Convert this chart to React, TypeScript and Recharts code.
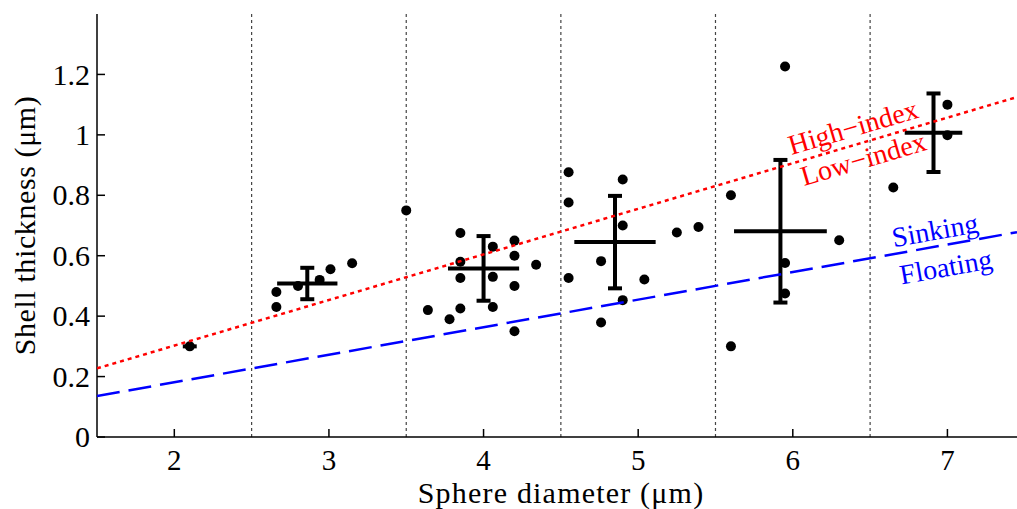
import {
  ComposedChart,
  Scatter,
  XAxis,
  YAxis,
  ErrorBar,
  ReferenceLine,
  ReferenceDot,
  Label,
} from "recharts";

const FONT = "'Liberation Serif', 'Times New Roman', serif";

// Achsen
const X_TICKS = [2, 3, 4, 5, 6, 7];
const Y_TICKS = [0, 0.2, 0.4, 0.6, 0.8, 1, 1.2];
const GRUPPEN_GRENZEN = [2.5, 3.5, 4.5, 5.5, 6.5];

// Einzelmessungen: Durchmesser (µm) / Schalendicke (µm)
const PUNKTE = [
  { d: 2.1, t: 0.3 },
  { d: 2.66, t: 0.48 },
  { d: 2.66, t: 0.43 },
  { d: 2.8, t: 0.5 },
  { d: 2.94, t: 0.52 },
  { d: 3.01, t: 0.555 },
  { d: 3.15, t: 0.575 },
  { d: 3.5, t: 0.75 },
  { d: 3.64, t: 0.42 },
  { d: 3.78, t: 0.39 },
  { d: 3.85, t: 0.675 },
  { d: 3.85, t: 0.58 },
  { d: 3.85, t: 0.526 },
  { d: 3.85, t: 0.425 },
  { d: 4.06, t: 0.63 },
  { d: 4.06, t: 0.53 },
  { d: 4.06, t: 0.43 },
  { d: 4.2, t: 0.65 },
  { d: 4.2, t: 0.6 },
  { d: 4.2, t: 0.5 },
  { d: 4.2, t: 0.35 },
  { d: 4.34, t: 0.57 },
  { d: 4.55, t: 0.876 },
  { d: 4.55, t: 0.776 },
  { d: 4.55, t: 0.526 },
  { d: 4.76, t: 0.582 },
  { d: 4.76, t: 0.379 },
  { d: 4.9, t: 0.852 },
  { d: 4.9, t: 0.7 },
  { d: 4.9, t: 0.453 },
  { d: 5.04, t: 0.521 },
  { d: 5.25, t: 0.677 },
  { d: 5.39, t: 0.695 },
  { d: 5.6, t: 0.8 },
  { d: 5.6, t: 0.3 },
  { d: 5.95, t: 1.226 },
  { d: 5.95, t: 0.576 },
  { d: 5.95, t: 0.475 },
  { d: 6.3, t: 0.651 },
  { d: 6.65, t: 0.826 },
  { d: 7.0, t: 1.1 },
  { d: 7.0, t: 0.999 },
];

// Gruppenmittel mit Streuung (x: Durchmesser, y: Dicke)
const MITTELWERTE = [
  { d: 2.1, t: 0.3, ed: 0.045, et: 0 },
  { d: 2.86, t: 0.508, ed: 0.195, et: 0.052 },
  { d: 4.0, t: 0.558, ed: 0.23, et: 0.107 },
  { d: 4.85, t: 0.645, ed: 0.263, et: 0.153 },
  { d: 5.92, t: 0.681, ed: 0.3, et: 0.236 },
  { d: 6.91, t: 1.007, ed: 0.186, et: 0.13 },
];

// Grenzlinien
const HIGH_LOW_INDEX = [
  { d: 1.5, t: 0.227 },
  { d: 7.45, t: 1.125 },
];
const SINKING_FLOATING = [
  { d: 1.5, t: 0.1355 },
  { d: 7.45, t: 0.678 },
];

function XTick({ x, y, payload }: any) {
  return (
    <g>
      <line x1={x} y1={y} x2={x} y2={y - 8} stroke="#000" strokeWidth={1.5} />
      <text
        x={x}
        y={y + 33}
        textAnchor="middle"
        fontSize={29}
        fontFamily={FONT}
        fill="#000"
      >
        {payload.value}
      </text>
    </g>
  );
}

function TopTick({ x, y }: any) {
  return <line x1={x} y1={y} x2={x} y2={y + 8} stroke="#000" strokeWidth={1.5} />;
}

function YTick({ x, y, payload }: any) {
  return (
    <g>
      <line x1={x} y1={y} x2={x + 8} y2={y} stroke="#000" strokeWidth={1.5} />
      <text
        x={x - 7}
        y={y}
        dy="0.34em"
        textAnchor="end"
        fontSize={30}
        fontFamily={FONT}
        fill="#000"
      >
        {payload.value}
      </text>
    </g>
  );
}

function Beschriftung(text: string, color: string, angle: number) {
  return (p: any) => (
    <text
      x={p.cx}
      y={p.cy}
      dy="0.34em"
      textAnchor="middle"
      transform={`rotate(${angle} ${p.cx} ${p.cy})`}
      fontSize={28}
      fontFamily={FONT}
      fill={color}
    >
      {text}
    </text>
  );
}

const keinSymbol = () => <g />;

export default function App() {
  return (
    <div style={{ position: "absolute", left: 0, top: 0, background: "#fff" }}>
      <ComposedChart
        width={1017}
        height={509}
        margin={{ top: 14, right: 0, bottom: 0, left: 0 }}
      >
        <XAxis
          type="number"
          dataKey="d"
          domain={[1.5, 7.45]}
          ticks={X_TICKS}
          allowDataOverflow
          height={72}
          tickSize={0}
          tickMargin={0}
          tickLine={false}
          tick={<XTick />}
          axisLine={{ stroke: "#000", strokeWidth: 1.5 }}
        >
          <Label
            content={({ viewBox }: any) => (
              <text
                x={viewBox.x + viewBox.width / 2 + 4}
                y={503}
                textAnchor="middle"
                fontSize={30}
                letterSpacing={1.2}
                fontFamily={FONT}
                fill="#000"
              >
                Sphere diameter (μm)
              </text>
            )}
          />
        </XAxis>
        <XAxis
          xAxisId="top"
          orientation="top"
          type="number"
          dataKey="d"
          domain={[1.5, 7.45]}
          ticks={X_TICKS}
          allowDataOverflow
          height={0}
          tickSize={0}
          tickMargin={0}
          tickLine={false}
          tick={<TopTick />}
          axisLine={{ stroke: "#000", strokeWidth: 1.5 }}
        />
        <YAxis
          type="number"
          dataKey="t"
          domain={[0, 1.4]}
          ticks={Y_TICKS}
          allowDataOverflow
          width={97}
          tickSize={0}
          tickMargin={0}
          tickLine={false}
          tick={<YTick />}
          axisLine={{ stroke: "#000", strokeWidth: 1.5 }}
        >
          <Label
            content={({ viewBox }: any) => {
              const cy = viewBox.y + viewBox.height / 2;
              return (
                <text
                  x={35}
                  y={cy}
                  textAnchor="middle"
                  transform={`rotate(-90 35 ${cy})`}
                  fontSize={30}
                  letterSpacing={0.6}
                  fontFamily={FONT}
                  fill="#000"
                >
                  Shell thickness (μm)
                </text>
              );
            }}
          />
        </YAxis>

        {GRUPPEN_GRENZEN.map((g) => (
          <ReferenceLine
            key={g}
            x={g}
            stroke="#444"
            strokeWidth={1.2}
            strokeDasharray="3 3"
          />
        ))}

        <Scatter
          data={PUNKTE}
          isAnimationActive={false}
          shape={(p: any) => <circle cx={p.cx} cy={p.cy} r={5} fill="#000" />}
        />

        <Scatter data={MITTELWERTE} isAnimationActive={false} shape={keinSymbol}>
          <ErrorBar
            dataKey="et"
            direction="y"
            width={7}
            stroke="#000"
            strokeWidth={4}
            isAnimationActive={false}
          />
          <ErrorBar
            dataKey="ed"
            direction="x"
            width={0}
            stroke="#000"
            strokeWidth={4}
            isAnimationActive={false}
          />
        </Scatter>

        <Scatter
          data={HIGH_LOW_INDEX}
          isAnimationActive={false}
          shape={keinSymbol}
          line={{ stroke: "#ff0000", strokeWidth: 2.5, strokeDasharray: "4 4" }}
        />
        <Scatter
          data={SINKING_FLOATING}
          isAnimationActive={false}
          shape={keinSymbol}
          line={{ stroke: "#0000ff", strokeWidth: 2.5, strokeDasharray: "23 9" }}
        />

        <ReferenceDot x={6.39} y={1.026} r={0} ifOverflow="visible" shape={Beschriftung("High−index", "#ff0000", -16.4)} />
        <ReferenceDot x={6.456} y={0.921} r={0} ifOverflow="visible" shape={Beschriftung("Low−index", "#ff0000", -16.4)} />
        <ReferenceDot x={6.92} y={0.684} r={0} ifOverflow="visible" shape={Beschriftung("Sinking", "#0000ff", -10.1)} />
        <ReferenceDot x={6.99} y={0.563} r={0} ifOverflow="visible" shape={Beschriftung("Floating", "#0000ff", -10.1)} />
      </ComposedChart>
    </div>
  );
}
